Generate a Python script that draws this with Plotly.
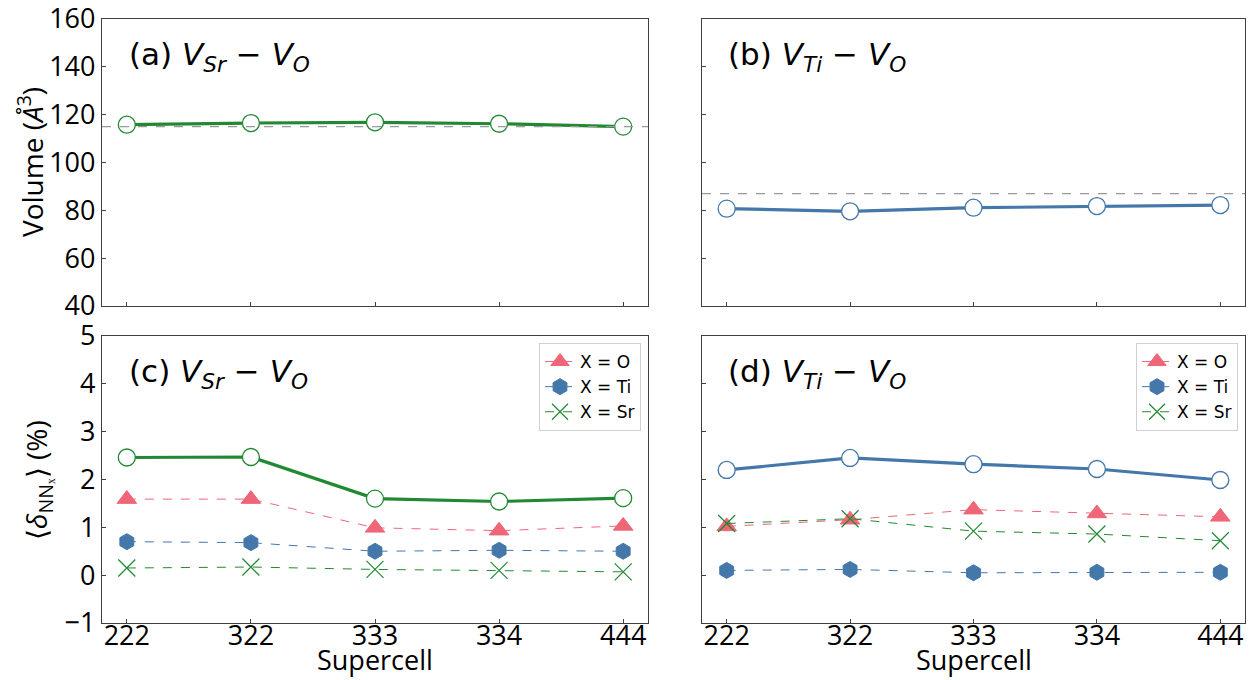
import plotly.graph_objects as go

# ---------------- data ----------------
supercells = ["222", "322", "333", "334", "444"]

vol_sr = [115.8, 116.5, 116.8, 116.2, 115.0]
vol_sr_ref = 115.0
vol_ti = [80.7, 79.6, 81.1, 81.8, 82.2]
vol_ti_ref = 87.0

dnn_sr_total = [2.46, 2.47, 1.60, 1.54, 1.61]
dnn_sr_O = [1.59, 1.59, 0.99, 0.93, 1.03]
dnn_sr_Ti = [0.70, 0.68, 0.50, 0.52, 0.50]
dnn_sr_Sr = [0.15, 0.17, 0.12, 0.10, 0.07]

dnn_ti_total = [2.20, 2.45, 2.32, 2.22, 1.99]
dnn_ti_O = [1.02, 1.16, 1.37, 1.29, 1.22]
dnn_ti_Ti = [0.10, 0.12, 0.05, 0.06, 0.06]
dnn_ti_Sr = [1.08, 1.18, 0.92, 0.86, 0.72]

legend_names = ["X = O", "X = Ti", "X = Sr"]
panel_labels = [
    "(a) <i>V</i><sub><i>Sr</i></sub> − <i>V</i><sub><i>O</i></sub>",
    "(b) <i>V</i><sub><i>Ti</i></sub> − <i>V</i><sub><i>O</i></sub>",
    "(c) <i>V</i><sub><i>Sr</i></sub> − <i>V</i><sub><i>O</i></sub>",
    "(d) <i>V</i><sub><i>Ti</i></sub> − <i>V</i><sub><i>O</i></sub>",
]

GREEN = "#228833"
BLUE = "#4477AA"
RED = "#EE6677"
FONT = "Open Sans"
LABFONT = "DejaVu Sans"

W, H = 1249, 680

fig = go.Figure()


def main_line(y, color, xa, ya):
    fig.add_trace(go.Scatter(
        x=supercells, y=y, xaxis=xa, yaxis=ya, mode="lines+markers",
        line=dict(color=color, width=3.2),
        marker=dict(symbol="circle", size=17, color="white",
                    line=dict(color=color, width=1.3)),
        showlegend=False))


main_line(vol_sr, GREEN, "x", "y")
main_line(vol_ti, BLUE, "x2", "y2")


def sub_lines(yO, yTi, ySr, xa, ya, leg):
    fig.add_trace(go.Scatter(
        x=supercells, y=yO, xaxis=xa, yaxis=ya, mode="lines+markers",
        name=legend_names[0], legend=leg,
        line=dict(color=RED, width=1, dash="dash"),
        marker=dict(symbol="triangle-up", size=17, color=RED,
                    line=dict(color=RED, width=1))))
    fig.add_trace(go.Scatter(
        x=supercells, y=yTi, xaxis=xa, yaxis=ya, mode="lines+markers",
        name=legend_names[1], legend=leg,
        line=dict(color=BLUE, width=1, dash="dash"),
        marker=dict(symbol="hexagon", size=16, color=BLUE,
                    line=dict(color=BLUE, width=1))))
    fig.add_trace(go.Scatter(
        x=supercells, y=ySr, xaxis=xa, yaxis=ya, mode="lines+markers",
        name=legend_names[2], legend=leg,
        line=dict(color=GREEN, width=1, dash="dash"),
        marker=dict(symbol="x-thin", size=17, color=GREEN,
                    line=dict(color=GREEN, width=1.2))))


sub_lines(dnn_sr_O, dnn_sr_Ti, dnn_sr_Sr, "x3", "y3", "legend")
main_line(dnn_sr_total, GREEN, "x3", "y3")
sub_lines(dnn_ti_O, dnn_ti_Ti, dnn_ti_Sr, "x4", "y4", "legend2")
main_line(dnn_ti_total, BLUE, "x4", "y4")

# reference dashed lines
for ref, xa, ya in [(vol_sr_ref, "x", "y"), (vol_ti_ref, "x2", "y2")]:
    fig.add_shape(type="line", xref=f"{xa} domain", yref=ya,
                  x0=0, x1=1, y0=ref, y1=ref,
                  line=dict(color="#999999", width=1.3, dash="dash"))

xL = [102 / W, 648 / W]
xR = [702 / W, 1245 / W]
yT = [1 - 306 / H, 1 - 19 / H]
yB = [1 - 623 / H, 1 - 336 / H]

axcommon = dict(showline=True, mirror=True, linecolor="#404040", linewidth=1.2,
                ticks="inside", ticklen=4, tickwidth=1, tickcolor="#404040",
                showgrid=False, zeroline=False, automargin=False,
                ticklabeloverflow="allow",
                tickfont=dict(family=FONT, size=27, color="black"))

xcommon = dict(axcommon, type="category", categoryorder="array",
               categoryarray=supercells, range=[-0.2, 4.2],
               ticklabelstandoff=-12)

legcommon = dict(y=1 - 343 / H, yanchor="top", xanchor="right",
                 bgcolor="white", bordercolor="#d0d0d0", borderwidth=1,
                 font=dict(family=LABFONT, size=17, color="black"))

fig.update_layout(
    width=W, height=H,
    margin=dict(l=0, r=0, t=0, b=0),
    paper_bgcolor="white", plot_bgcolor="white",
    font=dict(family=FONT, color="black"),
    xaxis=dict(xcommon, domain=xL, anchor="y", showticklabels=False),
    xaxis2=dict(xcommon, domain=xR, anchor="y2", showticklabels=False),
    xaxis3=dict(xcommon, domain=xL, anchor="y3"),
    xaxis4=dict(xcommon, domain=xR, anchor="y4"),
    yaxis=dict(axcommon, domain=yT, anchor="x", range=[40, 160], dtick=20),
    yaxis2=dict(axcommon, domain=yT, anchor="x2", range=[40, 160], dtick=20,
                showticklabels=False),
    yaxis3=dict(axcommon, domain=yB, anchor="x3", range=[-1, 5], dtick=1),
    yaxis4=dict(axcommon, domain=yB, anchor="x4", range=[-1, 5], dtick=1,
                showticklabels=False),
    legend=dict(legcommon, x=641 / W),
    legend2=dict(legcommon, x=1238 / W),
)

# panel labels
for lab, xa, ya in zip(panel_labels, ["x", "x2", "x3", "x4"], ["y", "y2", "y3", "y4"]):
    fig.add_annotation(text=lab, xref=f"{xa} domain", yref=f"{ya} domain",
                       x=0.045, y=0.87, xanchor="left", yanchor="middle",
                       showarrow=False, font=dict(family=LABFONT, size=31, color="black"))

# axis titles
fig.add_annotation(text="Volume (<i>Å</i><sup>3</sup>)", xref="paper", yref="paper",
                   x=30 / W, y=1 - 162 / H, textangle=-90, showarrow=False,
                   xanchor="center", yanchor="middle",
                   font=dict(family=FONT, size=28, color="black"))
fig.add_annotation(text="⟨<i>δ</i><sub>NNₓ</sub>⟩ (%)", xref="paper", yref="paper",
                   x=38 / W, y=1 - 480 / H, textangle=-90, showarrow=False,
                   xanchor="center", yanchor="middle",
                   font=dict(family=FONT, size=28, color="black"))
for xc in [(102 + 648) / 2, (702 + 1245) / 2]:
    fig.add_annotation(text="Supercell", xref="paper", yref="paper",
                       x=xc / W, y=0, showarrow=False,
                       xanchor="center", yanchor="bottom",
                       font=dict(family=FONT, size=27, color="black"))

fig.write_html("out.html")
